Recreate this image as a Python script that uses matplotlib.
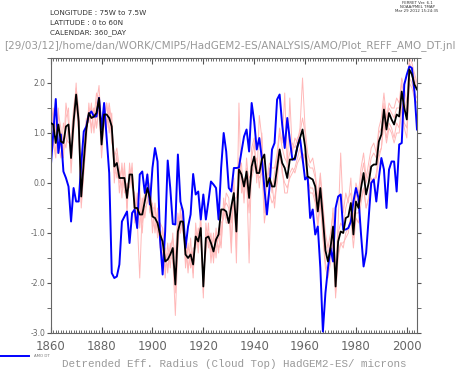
import matplotlib
matplotlib.use("Agg")
import matplotlib.pyplot as plt
import numpy as np
from matplotlib.ticker import MultipleLocator

# years 1860..2004 (one value per year)
years = np.arange(1860, 2005)

amo_dt = [
    0.3, 1.0, 1.68, 0.6, 0.97, 0.23, 0.1, -0.07, -0.77, -0.1,
    -0.37, -0.37, 0.37, 1.03, 1.13, 1.37, 1.43, 1.33, 1.33, 1.7,
    1.07, 1.6, 0.9, 0.2, -1.8, -1.9, -1.87, -1.63, -0.77, -0.67,
    -0.57, -1.2, -0.6, -0.53, -0.9, 0.17, 0.23, -0.2, 0.17, -0.43,
    0.3, 0.7, 0.43, -1.13, -1.83, -0.97, 0.45, -0.1, -0.82, -0.83,
    0.57, -0.37, -0.57, -1.3, -0.87, -0.63, 0.18, -0.23, -0.17, -0.73,
    -0.23, -0.73, -0.37, 0.03, -0.03, -0.1, -0.73, 0.3, 1.0, 0.63,
    -0.1, -0.17, 0.3, 0.3, 0.31, 0.63, 0.93, 1.07, 0.63, 1.6,
    1.23, 0.67, 0.9, 0.5, -0.1, -0.63, -0.1, 0.67, 0.8, 1.67,
    1.77, 1.17, 0.7, 1.3, 0.87, 0.47, 0.47, 0.73, 0.9, 0.5,
    0.07, 0.13, -0.7, -0.53, -1.03, -0.87, -1.7, -2.97, -2.2, -1.7,
    -1.3, -1.57, -0.5, -0.27, -0.23, -0.93, -0.93, -0.9, -0.77, -0.37,
    -0.1, -0.3, -1.03, -1.67, -1.4, -0.7, 0.0, 0.07, -0.37, 0.1,
    0.5, 0.27, -0.5, 0.27, 0.43, 0.43, -0.17, 0.77, 0.8, 1.97,
    2.17, 2.33, 2.3, 1.83, 1.07,
]

ens_mean = [
    1.2, 1.17, 0.8, 1.17, 0.83, 0.8, 1.13, 1.17, 0.5, 1.23,
    1.77, 1.23, -0.27, 0.43, 1.07, 1.4, 1.3, 1.33, 1.4, 1.7,
    0.77, 1.37, 1.37, 1.3, 1.13, 0.33, 0.4, 0.1, 0.1, 0.1,
    -0.3, 0.17, 0.17, -0.5, -0.5, -0.63, -0.63, -0.37, -0.1, -0.3,
    -0.67, -0.7, -0.8, -1.03, -1.17, -1.57, -1.53, -1.43, -1.3, -2.03,
    -0.97, -0.77, -0.77, -1.43, -1.5, -1.43, -1.63, -1.07, -1.17, -0.9,
    -2.07, -1.1, -1.07, -1.2, -1.37, -1.13, -1.03, -0.53, -0.53, -0.57,
    -0.8, -0.47, -0.2, -0.97, 0.27, 0.17, -0.07, 0.23, -0.3, 0.33,
    0.53, 0.2, 0.2, 0.47, 0.57, -0.07, 0.1, -0.07, -0.07, 0.3,
    0.67, 0.4, 0.3, 0.1, 0.47, 0.47, 0.5, 0.73, 0.9, 1.07,
    0.73, 0.13, 0.1, 0.07, -0.07, -0.57, -0.1, -0.7, -1.35, -1.57,
    -1.3, -0.87, -2.07, -1.17, -0.97, -1.0, -0.7, -0.67, -0.4, -1.03,
    -0.37, -0.5, -0.1, 0.2, -0.23, 0.0, 0.33, 0.37, 0.37, 0.83,
    0.97, 1.47, 1.07, 1.4, 1.27, 1.17, 1.37, 1.33, 1.83, 1.5,
    1.27, 2.27, 2.17, 1.97, 1.87,
]

member1 = [
    1.5, 1.0, 0.6, 1.4, 1.1, 0.5, 1.3, 1.5, 0.2, 1.0,
    1.6, 1.0, 0.1, 0.7, 1.3, 1.2, 1.6, 1.0, 1.6, 1.95,
    1.0, 1.6, 1.1, 1.5, 0.8, 0.6, 0.1, 0.3, -0.3, 0.4,
    -0.6, 0.4, -0.1, -0.2, -0.9, -0.4, -1.0, -0.1, 0.1, -0.6,
    -0.4, -1.0, -0.5, -1.3, -0.9, -1.9, -1.2, -1.7, -1.0, -2.2,
    -1.2, -0.5, -1.0, -1.2, -1.8, -1.1, -1.9, -0.8, -1.4, -0.6,
    -2.3, -0.8, -1.3, -1.0, -1.6, -0.9, -1.4, -0.8, -0.7, -0.2,
    -0.3, -1.2, 0.1, -1.3, 1.6, -0.2, 0.1, 0.0, -0.6, 0.7,
    0.9, 0.0, 1.35, 0.9, -0.2, 0.1, 0.4, 0.3, 0.3, 0.6,
    1.1, 0.8, 1.8, 0.3, 1.7, 0.6, 0.9, 0.8, 1.1, 2.1,
    1.1, 0.6, 0.4, 0.5, 0.2, -0.3, 0.2, -0.4, -1.0, -1.3,
    -1.0, -0.6, -1.8, -0.8, 0.6, -0.6, -0.2, -0.4, 0.1, -0.8,
    0.0, -0.2, 0.3, 0.6, 0.1, 0.4, 0.7, 0.8, 0.6, 1.1,
    1.3, 1.8, 1.3, 1.6, 1.5, 1.5, 1.7, 1.6, 2.1, 1.9,
    1.6, 2.5, 2.4, 2.2, 2.0,
]

member2 = [
    0.9, 1.4, 1.1, 0.8, 0.5, 1.2, 0.9, 0.8, 0.9, 1.5,
    1.9, 1.5, -0.5, 0.2, 0.8, 1.6, 1.0, 1.5, 1.1, 1.5,
    0.5, 1.2, 1.6, 1.0, 1.4, 0.0, 0.6, -0.2, 0.4, -0.2,
    0.0, -0.1, 0.4, -0.8, -0.2, -0.9, -0.3, -0.7, -0.3, 0.0,
    -1.0, -0.4, -1.1, -0.8, -1.5, -1.3, -1.8, -1.2, -1.6, -1.8,
    -0.7, -1.0, -0.5, -1.7, -1.2, -1.7, -1.3, -1.3, -0.9, -1.2,
    -1.8, -1.4, -0.8, -1.6, -1.0, -1.5, -0.9, -1.3, -0.3, -0.8,
    -0.8, -0.7, -0.4, -0.7, 0.2, 0.4, -0.4, 0.5, -0.1, 0.1,
    0.3, 0.5, -0.1, 0.4, -0.8, -0.4, -0.2, -0.4, -0.3, 0.0,
    0.6, 0.3, -0.2, -0.2, 0.2, 0.3, 0.2, 0.4, 0.5, 0.6,
    0.5, 0.0, -0.2, -0.2, -0.4, -0.9, -0.4, -1.1, -1.7, -1.9,
    -1.6, -1.1, -2.3, -1.4, -1.2, -1.3, -1.0, -0.9, -0.7, -1.3,
    -0.7, -0.8, -0.4, -0.1, -0.5, -0.3, 0.0, 0.1, 0.1, 0.5,
    0.7, 1.2, 0.8, 1.1, 1.0, 0.8, 1.0, 1.0, 1.5, 1.1,
    0.9, 2.0, 1.9, 1.7, 1.6,
]

member3 = [
    1.3, 0.8, 0.5, 1.5, 0.7, 0.6, 1.6, 1.2, 0.4, 1.3,
    1.5, 1.4, -0.3, 0.6, 1.2, 1.3, 1.5, 1.3, 1.8, 1.6,
    0.9, 1.5, 1.2, 1.6, 1.2, 0.5, 0.7, 0.3, -0.1, 0.3,
    -0.5, 0.3, 0.0, -0.3, -0.7, -1.9, -0.5, -0.2, 0.2, -0.5,
    -0.8, -0.9, -0.6, -1.2, -1.4, -1.7, -1.4, -1.5, -1.5, -2.65,
    -1.3, -0.6, -0.9, -1.2, -1.7, -1.5, -1.8, -1.0, -1.3, -0.8,
    -2.2, -1.0, -1.2, -1.2, -1.5, -1.1, -1.3, -1.2, -0.5, -0.4,
    -0.5, -1.4, -0.1, -1.6, 0.5, 0.0, -0.3, 0.2, -1.6, 0.5,
    0.8, 0.1, 0.3, 1.0, -0.6, 0.0, 0.3, -0.2, 0.2, 0.5,
    1.0, 0.7, 0.5, 0.4, 0.6, 0.8, 0.7, 0.9, 1.0, 1.3,
    1.0, 0.4, 0.3, 0.3, 0.1, -0.4, 0.1, -0.5, -1.2, -1.4,
    -1.2, -0.5, -2.0, -1.0, -0.8, -0.9, -0.5, -0.3, -0.2, -0.9,
    -0.2, -0.4, 0.1, 0.4, 0.0, 0.2, 0.5, 0.6, 0.5, 1.0,
    1.1, 1.6, 1.2, 1.5, 1.4, 1.3, 1.5, 1.5, 2.0, 1.7,
    1.4, 2.4, 2.3, 2.1, 1.9,
]

member4 = [
    1.1, 1.5, 1.0, 1.0, 1.0, 0.9, 0.7, 1.2, 0.5, 1.1,
    2.0, 1.0, -0.4, 0.2, 1.0, 1.5, 1.1, 1.5, 1.1, 1.75,
    0.7, 1.2, 1.6, 1.1, 1.1, 0.2, 0.2, 0.0, 0.3, -0.1,
    -0.1, 0.1, 0.3, -0.6, -0.3, -0.1, -0.8, -0.5, -0.4, -0.1,
    -0.5, -0.5, -1.0, -0.8, -0.9, -1.4, -1.7, -1.3, -1.1, -1.5,
    -0.6, -1.0, -0.6, -1.6, -1.3, -1.4, -1.5, -1.2, -1.0, -1.0,
    -1.9, -1.2, -1.0, -1.4, -1.1, -1.3, -1.1, -1.0, -0.6, -0.7,
    -0.7, -0.8, -0.3, -0.3, 0.3, 0.2, -0.1, 0.3, 0.1, 0.2,
    0.4, 0.3, 0.1, 0.2, -0.3, -0.4, -0.1, 0.0, -0.5, 0.1,
    0.7, 0.2, 0.0, -0.1, 0.1, 0.2, 0.3, 0.5, 0.7, 0.4,
    0.6, 0.1, -0.1, -0.1, -0.3, -0.8, -0.3, -0.9, -1.6, -1.8,
    -1.4, -1.2, -2.2, -1.5, -1.2, -1.2, -1.1, -1.0, -0.6, -1.1,
    -0.6, -0.6, -0.3, -0.1, -0.5, -0.3, 0.1, 0.0, 0.2, 0.6,
    0.7, 1.3, 0.9, 1.2, 1.1, 0.9, 1.2, 1.1, 1.6, 1.2,
    1.1, 2.1, 2.0, 1.8, 1.7,
]

members = [member1, member2, member3, member4]

fig = plt.figure(figsize=(4.58, 3.71), dpi=100)
ax = fig.add_axes([50.7 / 458, 1 - 333 / 371, (417 - 50.7) / 458, (333 - 58) / 371])

for m in members:
    ax.plot(years, m, color="#ffb8b8", lw=0.7, zorder=1)
ax.plot(years, ens_mean, color="black", lw=1.3, zorder=3)
ax.plot(years, amo_dt, color="#0000ff", lw=1.4, zorder=2)

ax.set_xlim(1860, 2004)
ax.set_ylim(-3.0, 2.5)

ax.xaxis.set_major_locator(MultipleLocator(20))
ax.xaxis.set_minor_locator(MultipleLocator(1))
ax.yaxis.set_minor_locator(MultipleLocator(0.5))
ax.set_yticks([-3, -2, -1, 0, 1, 2])
ax.set_yticklabels(["-3.0", "-2.0", "-1.0", "0.0", "1.0", "2.0"])

ax.tick_params(axis="x", which="both", direction="in", top=True, bottom=True,
               colors="#555555", labelsize=8.5, pad=5)
ax.tick_params(axis="x", which="major", length=4)
ax.tick_params(axis="x", which="minor", length=2)
ax.tick_params(axis="y", which="both", direction="out", right=True, left=True,
               colors="#555555", labelsize=5.5, length=3, pad=1)
for lab in ax.get_xticklabels() + ax.get_yticklabels():
    lab.set_color("#666666")
for s in ax.spines.values():
    s.set_color("#666666")
    s.set_linewidth(0.8)

# header text
fig.text(50 / 458, 1 - 13 / 371, "LONGITUDE : 75W to 7.5W", fontsize=5.2, color="#333333", va="center")
fig.text(50 / 458, 1 - 23 / 371, "LATITUDE : 0 to 60N", fontsize=5.2, color="#333333", va="center")
fig.text(50 / 458, 1 - 33 / 371, "CALENDAR: 360_DAY", fontsize=5.2, color="#333333", va="center")
fig.text(417 / 458, 1 - 3 / 371, "FERRET Ver. 6.1", fontsize=2.8, color="#333333", ha="center", va="center")
fig.text(417 / 458, 1 - 7 / 371, "NOAA/PMEL TMAP", fontsize=2.8, color="#333333", ha="center", va="center")
fig.text(417 / 458, 1 - 11 / 371, "Mar 29 2012 15:24:35", fontsize=2.8, color="#333333", ha="center", va="center")

fig.text(230 / 458, 1 - 46 / 371,
         "[29/03/12]/home/dan/WORK/CMIP5/HadGEM2-ES/ANALYSIS/AMO/Plot_REFF_AMO_DT.jnl",
         fontsize=7.5, color="#999999", ha="center", va="center")

# legend-like key at the bottom left
fig.add_artist(plt.Line2D([0, 29 / 458], [1 - 356 / 371] * 2, color="#0000ff", lw=1.4))
fig.text(34 / 458, 1 - 356 / 371, "AMO DT", fontsize=2.8, color="#777777", va="center")

fig.text(234 / 458, 1 - 364 / 371, "Detrended Eff. Radius (Cloud Top) HadGEM2-ES/ microns",
         fontsize=7.8, family="Liberation Mono", color="#999999", ha="center", va="center")

fig.savefig("out.png", dpi=100)
